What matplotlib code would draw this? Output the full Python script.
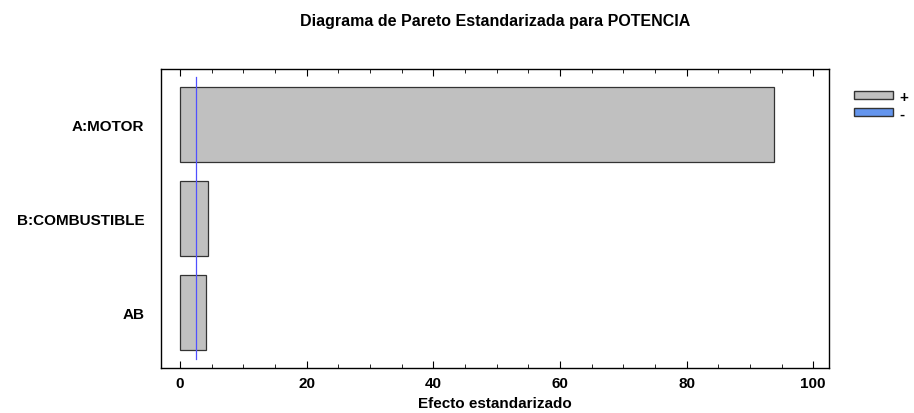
import matplotlib
matplotlib.use("Agg")
import matplotlib.pyplot as plt
from matplotlib.patches import Patch
from matplotlib.ticker import MultipleLocator

plt.rcParams["font.family"] = ["Liberation Sans", "DejaVu Sans"]
plt.rcParams["font.weight"] = "bold"

# ── Data ───────────────────────────────────────────────────────
effects = ["A:MOTOR", "B:COMBUSTIBLE", "AB"]
std_effect = [93.8, 4.5, 4.05]
critical_value = 2.53
legend_labels = ["+", "-"]

fig = plt.figure(figsize=(9.14, 4.14), dpi=100)
ax = fig.add_axes([0.176, 0.109, 0.731, 0.722])

ax.barh(range(len(effects)), std_effect, height=0.8, color="#c0c0c0",
        edgecolor="#333333", linewidth=0.9)
ax.plot([critical_value, critical_value], [-0.5, len(effects) - 0.5],
        color="#5050ff", linewidth=0.9)

ax.set_xlim(-3, 102.5)
ax.set_ylim(len(effects) - 0.41, -0.59)
ax.set_yticks(range(len(effects)))
ax.set_yticklabels(effects, fontsize=11, fontweight="bold")
ax.tick_params(axis="y", length=0, pad=12)
ax.xaxis.set_major_locator(MultipleLocator(20))
ax.xaxis.set_minor_locator(MultipleLocator(5))
ax.tick_params(axis="x", which="both", direction="in", top=True, labelsize=11, pad=6)
ax.tick_params(axis="x", which="major", length=5)
ax.tick_params(axis="x", which="minor", length=3)
for lbl in ax.get_xticklabels():
    lbl.set_fontweight("bold")
for s in ax.spines.values():
    s.set_linewidth(1.0)

ax.set_xlabel("Efecto estandarizado", fontsize=11, fontweight="bold", labelpad=4)
ax.set_title("Diagrama de Pareto Estandarizada para POTENCIA", fontsize=11.5,
             fontweight="bold", pad=32)

handles = [Patch(facecolor="#c0c0c0", edgecolor="#333333"),
           Patch(facecolor="#6495ed", edgecolor="#333333")]
fig.legend(handles, legend_labels, loc="upper left", bbox_to_anchor=(0.934, 0.781),
           frameon=False, fontsize=11, handlelength=2.55, handleheight=0.46,
           handletextpad=0.45, labelspacing=0.2, borderpad=0, borderaxespad=0)

plt.savefig("out.png", dpi=100)
